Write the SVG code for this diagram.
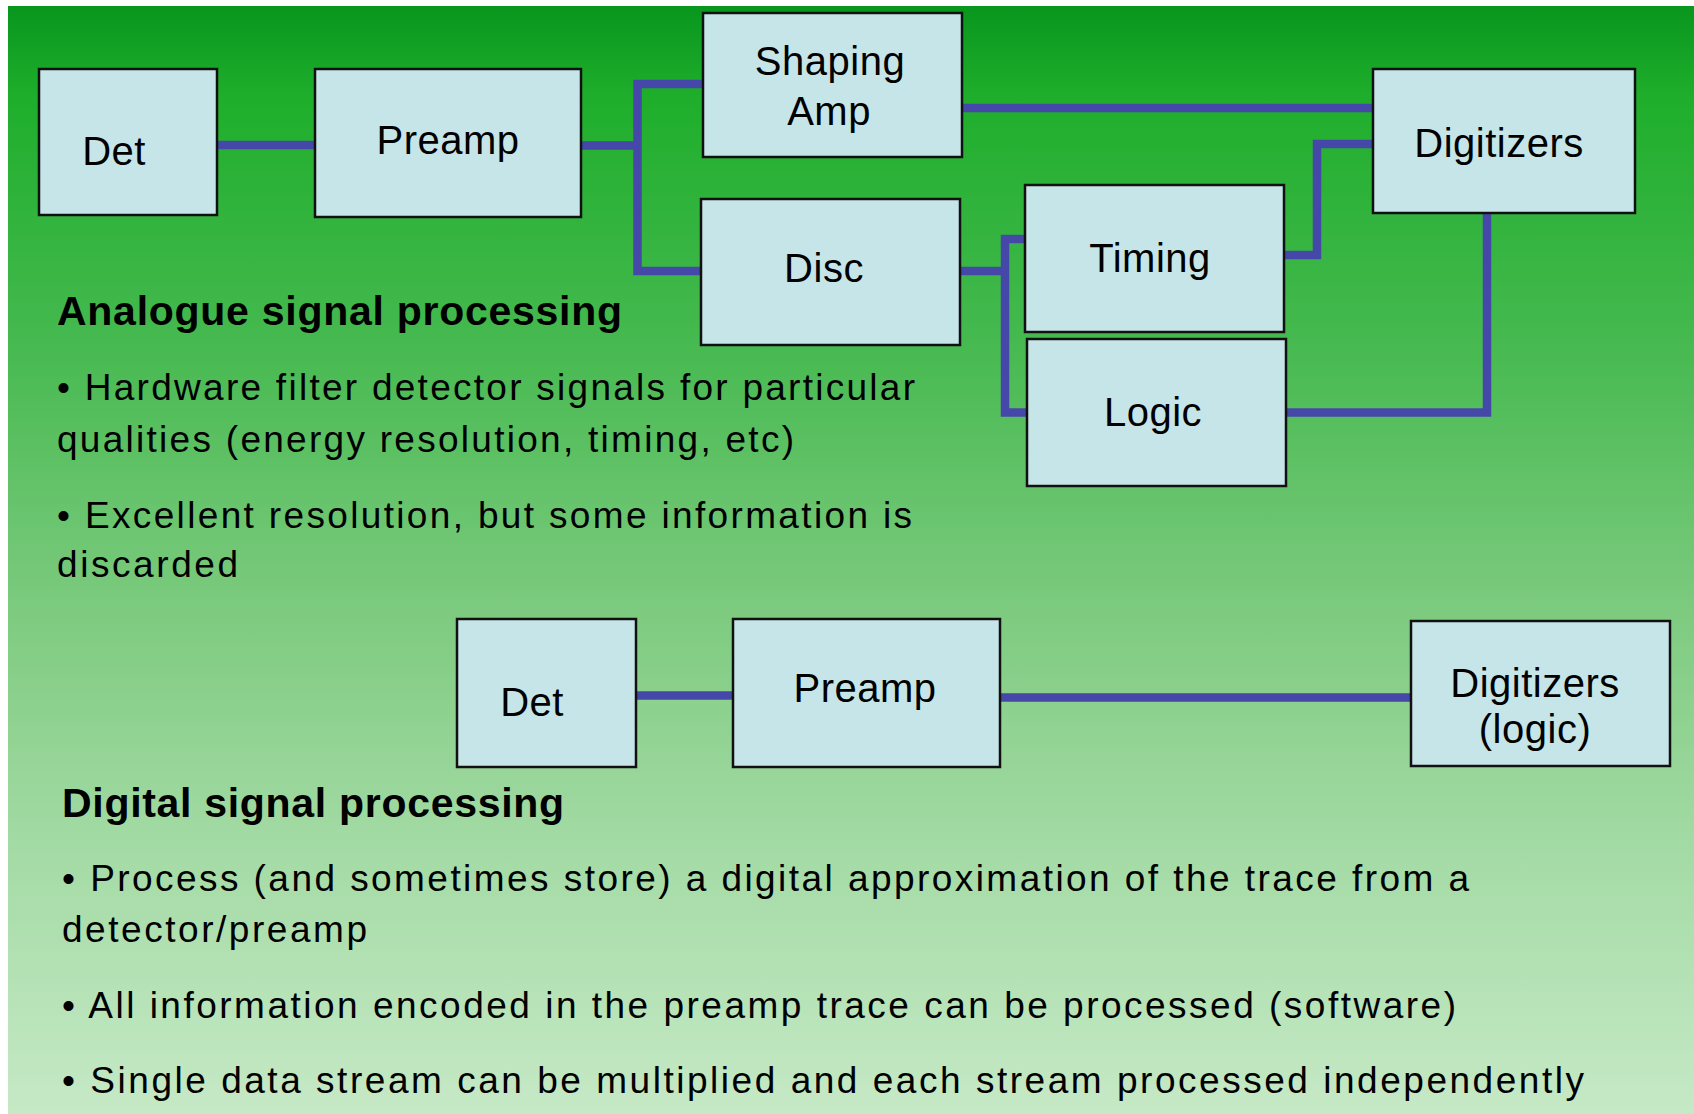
<svg xmlns="http://www.w3.org/2000/svg" width="1694" height="1114" viewBox="0 0 1694 1114">
<defs>
<linearGradient id="bg" x1="0" y1="0" x2="0" y2="1">
<stop offset="0" stop-color="#08961e"/>
<stop offset="0.08" stop-color="#1eae2b"/>
<stop offset="0.3" stop-color="#45b94f"/>
<stop offset="0.55" stop-color="#7ecb80"/>
<stop offset="0.75" stop-color="#a2daa3"/>
<stop offset="1" stop-color="#c6e9c6"/>
</linearGradient>
</defs>
<style>
.box{fill:#c6e5e8;stroke:#111;stroke-width:2.5}
.lbl{font-family:"Liberation Sans",Arial,sans-serif;font-size:40px;fill:#000;text-anchor:middle;letter-spacing:0.5px}
.wire{fill:none;stroke:#4548a8;stroke-width:8.5;stroke-linejoin:miter;stroke-linecap:butt}
.head{font-family:"Liberation Sans",Arial,sans-serif;font-size:41px;font-weight:bold;fill:#000}
.body{font-family:"Liberation Sans",Arial,sans-serif;font-size:37px;fill:#000}
</style>
<rect x="0" y="0" width="1694" height="1114" fill="#ffffff"/>
<rect x="8" y="6" width="1686" height="1108" fill="url(#bg)"/>

<g id="connectors">
<path class="wire" d="M217 145 H315"/>
<path class="wire" d="M581 145.5 H637.5"/>
<path class="wire" d="M703 84 H637.5 V271 H701"/>
<path class="wire" d="M962 108 H1373"/>
<path class="wire" d="M960 271 H1005"/>
<path class="wire" d="M1025 239 H1005 V412.5 H1027"/>
<path class="wire" d="M1284 255 H1317 V144 H1373"/>
<path class="wire" d="M1286 412.5 H1487 V213"/>
<path class="wire" d="M635.5 695.5 H733"/>
<path class="wire" d="M1000 697.5 H1411"/>
</g>

<g id="det1"><rect class="box" x="39" y="69" width="178" height="146"/><text class="lbl" x="114" y="165">Det</text></g>
<g id="preamp1"><rect class="box" x="315" y="69" width="266" height="148"/><text class="lbl" x="448" y="154">Preamp</text></g>
<g id="shaping"><rect class="box" x="703" y="13" width="259" height="144"/><text class="lbl" x="830" y="75">Shaping</text><text class="lbl" x="829" y="125">Amp</text></g>
<g id="disc"><rect class="box" x="701" y="199" width="259" height="146"/><text class="lbl" x="824" y="282">Disc</text></g>
<g id="timing"><rect class="box" x="1025" y="185" width="259" height="147"/><text class="lbl" x="1150" y="272">Timing</text></g>
<g id="logic"><rect class="box" x="1027" y="339" width="259" height="147"/><text class="lbl" x="1153" y="426">Logic</text></g>
<g id="digitizers1"><rect class="box" x="1373" y="69" width="262" height="144"/><text class="lbl" x="1499" y="157">Digitizers</text></g>
<g id="det2"><rect class="box" x="457" y="619" width="179" height="148"/><text class="lbl" x="532" y="716">Det</text></g>
<g id="preamp2"><rect class="box" x="733" y="619" width="267" height="148"/><text class="lbl" x="865" y="702">Preamp</text></g>
<g id="digitizers2"><rect class="box" x="1411" y="621" width="259" height="145"/><text class="lbl" x="1535" y="697">Digitizers</text><text class="lbl" x="1535" y="743">(logic)</text></g>

<g id="text">
<text class="head" x="57" y="325" textLength="565" lengthAdjust="spacing">Analogue signal processing</text>
<text class="body" x="57" y="400" textLength="858" lengthAdjust="spacing">• Hardware filter detector signals for particular</text>
<text class="body" x="57" y="452" textLength="737" lengthAdjust="spacing">qualities (energy resolution, timing, etc)</text>
<text class="body" x="57" y="528" textLength="855" lengthAdjust="spacing">• Excellent resolution, but some information is</text>
<text class="body" x="57" y="577" textLength="181" lengthAdjust="spacing">discarded</text>
<text class="head" x="62" y="817" textLength="502" lengthAdjust="spacing">Digital signal processing</text>
<text class="body" x="62" y="891" textLength="1407" lengthAdjust="spacing">• Process (and sometimes store) a digital approximation of the trace from a</text>
<text class="body" x="62" y="942" textLength="305" lengthAdjust="spacing">detector/preamp</text>
<text class="body" x="62" y="1018" textLength="1394" lengthAdjust="spacing">• All information encoded in the preamp trace can be processed (software)</text>
<text class="body" x="62" y="1093" textLength="1522" lengthAdjust="spacing">• Single data stream can be multiplied and each stream processed independently</text>
</g>
</svg>
